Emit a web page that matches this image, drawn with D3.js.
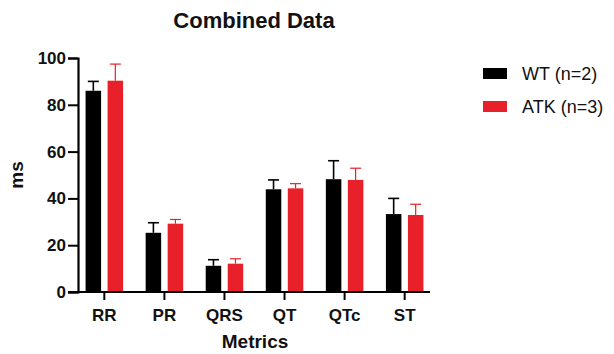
<!DOCTYPE html>
<html>
<head>
<meta charset="utf-8">
<script src="https://cdn.jsdelivr.net/npm/d3@7"></script>
<style>
  body { margin: 0; background: #fff; }
  text { font-family: "Liberation Sans", Arial, sans-serif; }
</style>
</head>
<body>
<div id="chart"></div>
<script>
const categories = ["RR", "PR", "QRS", "QT", "QTc", "ST"];
const seriesNames = ["WT (n=2)", "ATK (n=3)"];
const wtMean = [86, 25.3, 11.2, 43.9, 48.2, 33.3];
const wtErrTop = [90, 29.6, 13.8, 47.9, 56.1, 40.0];
const atkMean = [90.3, 29.2, 12.1, 44.3, 47.9, 32.9];
const atkErrTop = [97.4, 31, 14.2, 46.3, 52.9, 37.5];
const yTicks = [0, 20, 40, 60, 80, 100];

const width = 614, height = 354;
const colors = ["#000000", "#e8202a"];

const svg = d3.select("#chart").append("svg")
  .attr("width", width)
  .attr("height", height);

const x = d3.scalePoint().domain(categories).range([78, 430]).padding(0.43);
const y = d3.scaleLinear().domain([0, 100]).range([292, 58]);

const series = [
  { name: seriesNames[0], mean: wtMean, err: wtErrTop, color: colors[0], offset: -10.5, sw: 1.6 },
  { name: seriesNames[1], mean: atkMean, err: atkErrTop, color: colors[1], offset: 11.5, sw: 1.2 }
];
const barW = 15.5;

// bars and error bars (upper only)
series.forEach(s => {
  const g = svg.append("g");
  categories.forEach((c, i) => {
    const cx = x(c) + s.offset;
    g.append("line")
      .attr("x1", cx).attr("x2", cx)
      .attr("y1", y(s.mean[i])).attr("y2", y(s.err[i]))
      .attr("stroke", s.color).attr("stroke-width", s.sw);
    g.append("line")
      .attr("x1", cx - 5.5).attr("x2", cx + 5.5)
      .attr("y1", y(s.err[i])).attr("y2", y(s.err[i]))
      .attr("stroke", s.color).attr("stroke-width", s.sw);
    g.append("rect")
      .attr("x", cx - barW / 2)
      .attr("y", y(s.mean[i]))
      .attr("width", barW)
      .attr("height", y(0) - y(s.mean[i]))
      .attr("fill", s.color);
  });
});

// y axis
const yAxis = svg.append("g")
  .attr("transform", "translate(78,0)")
  .call(d3.axisLeft(y).tickValues(yTicks).tickSize(10).tickPadding(2));
// x axis
const xAxis = svg.append("g")
  .attr("transform", "translate(0,292)")
  .call(d3.axisBottom(x).tickSize(8).tickPadding(4));

[yAxis, xAxis].forEach(a => {
  a.select(".domain").attr("stroke", "#000").attr("stroke-width", 2.2);
  a.selectAll(".tick line").attr("stroke", "#000").attr("stroke-width", 2);
  a.selectAll(".tick text")
    .attr("fill", "#111")
    .style("font-size", "17px")
    .style("font-weight", "bold")
    .style("font-family", "'Liberation Sans', Arial, sans-serif");
});
xAxis.selectAll(".tick text").attr("dy", "1em");
// x axis line starts at the 0 tick end
xAxis.select(".domain").attr("d", "M68,0H430");

// titles
svg.append("text")
  .attr("x", 254).attr("y", 28)
  .attr("text-anchor", "middle")
  .style("font-size", "22px").style("font-weight", "bold")
  .attr("fill", "#111")
  .text("Combined Data");

svg.append("text")
  .attr("transform", "translate(23,175) rotate(-90)")
  .attr("text-anchor", "middle")
  .style("font-size", "19px").style("font-weight", "bold")
  .attr("fill", "#111")
  .text("ms");

svg.append("text")
  .attr("x", 255).attr("y", 348)
  .attr("text-anchor", "middle")
  .style("font-size", "19px").style("font-weight", "bold")
  .attr("fill", "#111")
  .text("Metrics");

// legend
const legend = svg.append("g").attr("transform", "translate(483,68)");
series.forEach((s, i) => {
  const row = legend.append("g").attr("transform", `translate(0,${i * 33})`);
  row.append("rect").attr("width", 24).attr("height", 11).attr("fill", s.color);
  row.append("text")
    .attr("x", 39).attr("y", 11.5)
    .style("font-size", "18px")
    .attr("fill", "#111")
    .text(s.name);
});
</script>
</body>
</html>
